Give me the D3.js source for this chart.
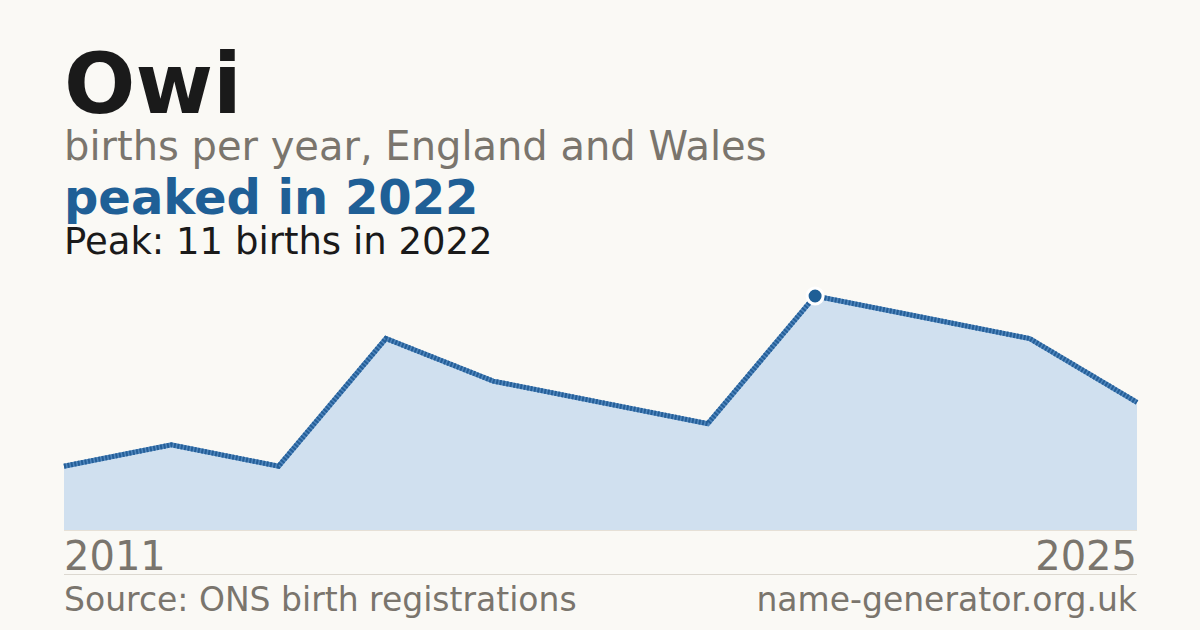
<!DOCTYPE html>
<html>
<head>
<meta charset="utf-8" />
<title>Owi</title>
<script src="https://d3js.org/d3.v7.min.js"></script>
<style>
  body { margin: 0; background: #faf9f5; }
  text { font-family: "DejaVu Sans", sans-serif; }
</style>
</head>
<body>
<script>
// data
var years = [2011, 2012, 2013, 2014, 2016, 2018, 2020, 2022, 2023, 2024, 2025];
var births = [3, 4, 3, 9, 7, 6, 5, 11, 10, 9, 6];
var tickLabels = ['2011', '2025'];

var W = 1200, H = 630
  , left = 64, right = 1137
  , plotTop = 296, plotBottom = 530;

var svg = d3.select('body').append('svg')
  .attr('width', W)
  .attr('height', H);

svg.append('rect').attr('width', W).attr('height', H).attr('fill', '#faf9f5');

// header texts
svg.append('text').attr('x', left).attr('y', 113)
  .style('font-size', '84px').style('font-weight', 'bold').attr('fill', '#1a1a1a')
  .text('Owi');
svg.append('text').attr('x', left).attr('y', 160)
  .style('font-size', '40px').attr('fill', '#7a756d')
  .text('births per year, England and Wales');
svg.append('text').attr('x', left).attr('y', 214)
  .style('font-size', '48px').style('font-weight', 'bold').attr('fill', '#1f5f96')
  .text('peaked in 2022');

var peakI = d3.maxIndex(births);
svg.append('text').attr('x', left).attr('y', 254)
  .style('font-size', '37px').attr('fill', '#1a1a1a')
  .text('Peak: ' + births[peakI] + ' births in ' + years[peakI]);

// scales
var x = d3.scalePoint().domain(years).range([left, right]);
var y = d3.scaleLinear().domain([0, d3.max(births)]).range([plotBottom, plotTop]);

var area = d3.area()
  .x((d, i) => x(years[i]))
  .y0(plotBottom)
  .y1(d => y(d));
var line = d3.line()
  .x((d, i) => x(years[i]))
  .y(d => y(d));

svg.append('path').datum(births)
  .attr('d', area)
  .attr('fill', '#d0e0ef');

svg.append('line')
  .attr('x1', left).attr('x2', right)
  .attr('y1', plotBottom + 0.5).attr('y2', plotBottom + 0.5)
  .attr('stroke', '#e6e0d6').attr('stroke-width', 1);

svg.append('path').datum(births)
  .attr('d', line)
  .attr('fill', 'none')
  .attr('stroke', '#4f86bd')
  .attr('stroke-width', 5);
svg.append('path').datum(births)
  .attr('d', line)
  .attr('fill', 'none')
  .attr('stroke', '#255f98')
  .attr('stroke-width', 5)
  .attr('stroke-dasharray', '2 1.5');

// peak marker
svg.append('circle')
  .attr('cx', x(years[peakI])).attr('cy', y(births[peakI]))
  .attr('r', 8).attr('fill', '#1f5f96')
  .attr('stroke', '#ffffff').attr('stroke-width', 3);

// year labels
svg.append('text').attr('x', left).attr('y', 570)
  .style('font-size', '40px').attr('fill', '#7a756d')
  .text(tickLabels[0]);
svg.append('text').attr('x', right).attr('y', 570)
  .attr('text-anchor', 'end')
  .style('font-size', '40px').attr('fill', '#7a756d')
  .text(tickLabels[1]);

svg.append('line')
  .attr('x1', left).attr('x2', right)
  .attr('y1', 574.5).attr('y2', 574.5)
  .attr('stroke', '#dcd8d0').attr('stroke-width', 1);

// footer
svg.append('text').attr('x', left).attr('y', 611)
  .style('font-size', '33px').attr('fill', '#7a756d')
  .text('Source: ONS birth registrations');
svg.append('text').attr('x', right).attr('y', 611)
  .attr('text-anchor', 'end')
  .style('font-size', '33px').attr('fill', '#7a756d')
  .text('name-generator.org.uk');
</script>
</body>
</html>
